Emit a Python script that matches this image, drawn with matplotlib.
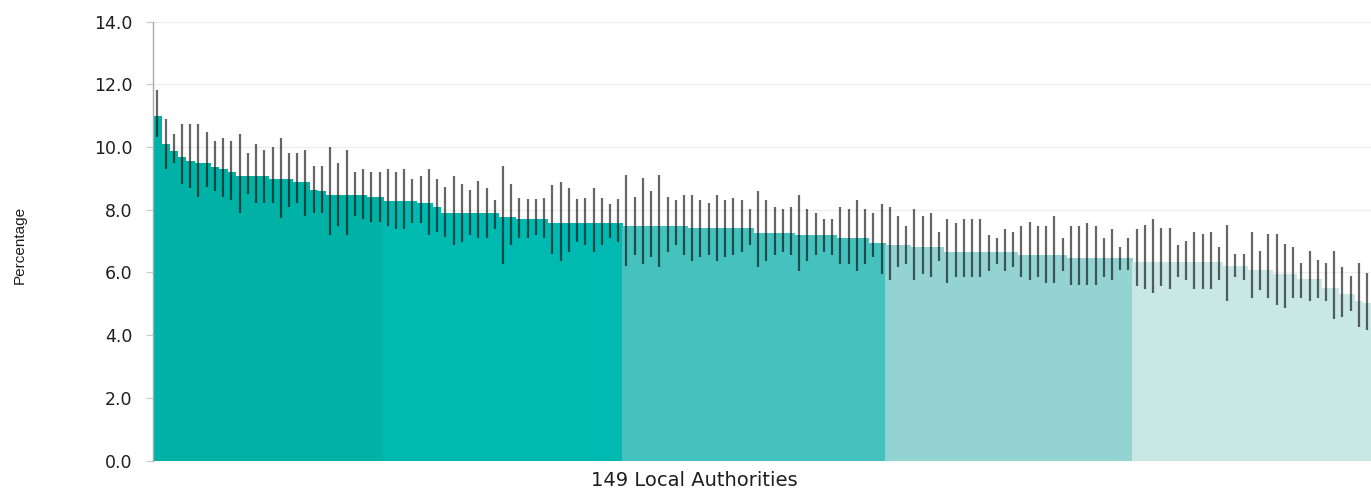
import numpy as np
import matplotlib
matplotlib.use("Agg")
import matplotlib.pyplot as plt

# ---- data (sorted high -> low) ----
values = [
    # quintile 1
    11.0, 10.1, 9.88, 9.69, 9.57, 9.5, 9.5, 9.37, 9.29, 9.22,
    9.08, 9.08, 9.08, 9.08, 8.98, 8.98, 8.98, 8.88, 8.88, 8.62,
    8.6, 8.47, 8.47, 8.47, 8.47, 8.47, 8.4, 8.4,
    # quintile 2
    8.29, 8.29, 8.29, 8.29, 8.2, 8.2, 8.08, 7.89, 7.89, 7.89,
    7.89, 7.89, 7.89, 7.89, 7.78, 7.78, 7.7, 7.7, 7.7, 7.7,
    7.59, 7.59, 7.59, 7.59, 7.59, 7.59, 7.59, 7.59, 7.59,
    # quintile 3
    7.48, 7.48, 7.48, 7.48, 7.48, 7.48, 7.48, 7.48, 7.41, 7.41,
    7.41, 7.41, 7.41, 7.41, 7.41, 7.41, 7.26, 7.26, 7.26, 7.26,
    7.26, 7.18, 7.18, 7.18, 7.18, 7.18, 7.1, 7.1, 7.1, 7.1,
    6.95, 6.95,
    # quintile 4
    6.88, 6.88, 6.88, 6.8, 6.8, 6.8, 6.8, 6.66, 6.66, 6.66,
    6.66, 6.66, 6.66, 6.66, 6.66, 6.66, 6.56, 6.56, 6.56, 6.56,
    6.56, 6.56, 6.45, 6.45, 6.45, 6.45, 6.45, 6.45, 6.45, 6.45,
    # quintile 5
    6.32, 6.32, 6.32, 6.32, 6.32, 6.32, 6.32, 6.32, 6.32, 6.32,
    6.32, 6.2, 6.2, 6.2, 6.07, 6.07, 6.07, 5.94, 5.94, 5.94,
    5.78, 5.78, 5.78, 5.5, 5.5, 5.3, 5.3, 5.1, 5.03, 4.95,
]

ci_upper = [
    11.82, 10.9, 10.42, 10.73, 10.73, 10.73, 10.49, 10.2, 10.3, 10.2,
    10.42, 9.8, 10.1, 9.9, 10.0, 10.3, 9.8, 9.8, 9.9, 9.4,
    9.4, 10.0, 9.5, 9.9, 9.22, 9.29, 9.22, 9.22, 9.29, 9.22,
    9.29, 8.98, 9.09, 9.29, 8.98, 8.74, 9.09, 8.81, 8.63, 8.92,
    8.7, 8.31, 9.4, 8.81, 8.39, 8.33, 8.33, 8.39, 8.79, 8.9,
    8.7, 8.33, 8.39, 8.7, 8.39, 8.18, 8.33, 9.1, 8.4, 9.0,
    8.61, 9.11, 8.4, 8.31, 8.47, 8.47, 8.31, 8.2, 8.47, 8.31,
    8.39, 8.31, 8.02, 8.61, 8.31, 8.1, 8.02, 8.1, 8.47, 8.02,
    7.89, 7.7, 7.7, 8.1, 8.02, 8.31, 8.02, 7.89, 8.19, 8.09,
    7.8, 7.48, 8.02, 7.8, 7.89, 7.3, 7.7, 7.59, 7.7, 7.7,
    7.7, 7.2, 7.11, 7.39, 7.3, 7.49, 7.6, 7.49, 7.49, 7.8,
    7.09, 7.49, 7.49, 7.59, 7.49, 7.09, 7.39, 6.81, 7.09, 7.4,
    7.51, 7.7, 7.41, 7.41, 6.88, 7.0, 7.3, 7.23, 7.3, 6.82,
    7.51, 6.59, 6.59, 7.3, 6.69, 7.23, 7.23, 6.9, 6.82, 6.29,
    6.69, 6.4, 6.29, 6.69, 6.18, 5.89, 6.29, 5.97, 5.9,
]

ci_lower = [
    10.31, 9.29, 9.5, 8.81, 8.71, 8.42, 8.72, 8.6, 8.42, 8.31,
    7.89, 8.49, 8.2, 8.2, 8.2, 7.73, 8.1, 8.2, 7.8, 7.89,
    7.89, 7.2, 7.48, 7.2, 7.8, 7.7, 7.6, 7.6, 7.48, 7.39,
    7.39, 7.57, 7.57, 7.2, 7.3, 7.14, 6.88, 6.98, 7.2, 7.11,
    7.11, 7.38, 6.27, 6.88, 7.11, 7.11, 7.2, 7.11, 6.58, 6.38,
    6.66, 6.98, 6.88, 6.66, 6.88, 7.11, 6.98, 6.2, 6.56, 6.27,
    6.48, 6.18, 6.66, 6.88, 6.56, 6.38, 6.48, 6.56, 6.38, 6.48,
    6.56, 6.66, 6.88, 6.18, 6.38, 6.56, 6.66, 6.56, 6.06, 6.38,
    6.56, 6.66, 6.56, 6.27, 6.27, 6.06, 6.27, 6.48, 5.95, 5.76,
    6.18, 6.27, 5.76, 5.95, 5.87, 6.38, 5.67, 5.87, 5.87, 5.87,
    5.87, 6.06, 6.27, 6.06, 6.18, 5.87, 5.76, 5.87, 5.67, 5.67,
    6.06, 5.6, 5.6, 5.6, 5.6, 5.87, 5.76, 6.08, 6.08, 5.58,
    5.46, 5.35, 5.57, 5.46, 5.87, 5.76, 5.46, 5.46, 5.46, 5.76,
    5.1, 5.87, 5.76, 5.18, 5.44, 5.18, 4.96, 4.88, 5.18, 5.18,
    5.1, 5.18, 5.1, 4.5, 4.59, 4.78, 4.27, 4.16, 4.05,
]

group_sizes = [28, 29, 32, 30, 30]
group_colors = ["#00b2a5", "#00bab1", "#45c2be", "#93d4d2", "#c8e7e5"]

y_ticks = [0, 2, 4, 6, 8, 10, 12, 14]
x_title = "149 Local Authorities"
y_title = "Percentage"

# ---- figure ----
W, H = 1371, 488
fig = plt.figure(figsize=(W / 100, H / 100), dpi=100)
plt.rcParams["font.family"] = ["DejaVu Sans"]

n = len(values)
x = np.arange(n)
bar_colors = np.repeat(group_colors, group_sizes)

# axes placed in pixel terms; the plot runs a little past the right edge
left_px, right_px = 153.2, 153.2 + n * 8.23
top_px, bottom_px = 21.7, 460.5
ax = fig.add_axes([left_px / W, 1 - bottom_px / H,
                   (right_px - left_px) / W, (bottom_px - top_px) / H])

# bars overlap a hair so the pixel grid never leaves a white seam
ax.bar(x, values, width=1.06, color=bar_colors, linewidth=0,
       antialiased=False, zorder=2)
ax.vlines(x, ci_lower, ci_upper, color="black", alpha=0.6,
          linewidth=1.6, zorder=3)

ax.set_xlim(-0.5, n - 0.5)
ax.set_ylim(0, 14)
ax.set_yticks(y_ticks)
ax.set_yticklabels([f"{t:.1f}" for t in y_ticks], fontsize=12.5,
                   color="#1e1e1e")
ax.set_xticks([])
ax.grid(axis="y", color="#eeeeee", linewidth=1.0, zorder=0)
ax.set_axisbelow(True)

for side in ["top", "right", "bottom"]:
    ax.spines[side].set_visible(False)
ax.spines["left"].set_color("#b0a8a8")
ax.spines["left"].set_linewidth(1.0)
ax.tick_params(axis="y", length=5, color="#d0c8c8", pad=10)

fig.text(694 / W, 1 - 481 / H, x_title, ha="center", va="center",
         fontsize=14, color="#1e1e1e")
fig.text(20 / W, 1 - 245 / H, y_title, ha="center", va="center",
         rotation=90, fontsize=11, color="#1e1e1e",
         family="Liberation Sans")

fig.savefig("out.png", dpi=100)
